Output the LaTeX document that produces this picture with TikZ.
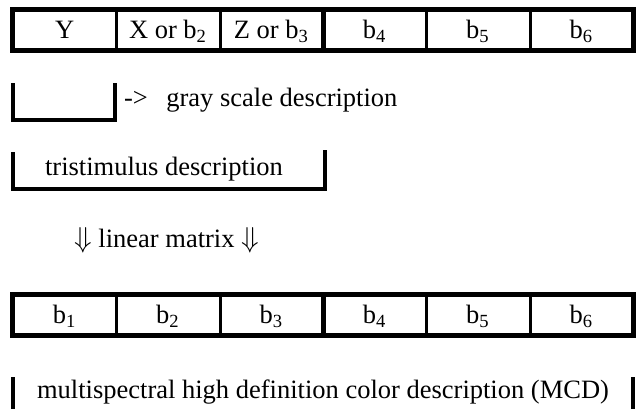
\documentclass[tikz,border=0pt]{standalone}
\usepackage{fontspec}
\setmainfont{Liberation Serif}
\usepackage{amsmath}
\usepackage{tikz}

\begin{document}
\begin{tikzpicture}[x=0.5pt,y=-0.5pt,
  every node/.style={font=\fontsize{13.25}{16}\selectfont},
  cell/.style={minimum width=51.67pt,minimum height=20pt,inner sep=0pt,
               text height=9.3pt,text depth=1pt},
  outer/.style={line width=2.3pt},
  divider/.style={line width=1.5pt}]
  \useasboundingbox (0,0) rectangle (636,409);
  % upper band row
  \node[cell] (y)   at (64.7,30)  {Y};
  \node[cell] (xb2) at (168.0,30) {X or b\textsubscript{2}};
  \node[cell] (zb3) at (271.3,30) {Z or b\textsubscript{3}};
  \node[cell] (ub4) at (374.7,30) {b\textsubscript{4}};
  \node[cell] (ub5) at (478.0,30) {b\textsubscript{5}};
  \node[cell] (ub6) at (581.3,30) {b\textsubscript{6}};
  \draw[outer] (y.north west) rectangle (ub6.south east);
  \draw[divider] (y.north east) -- (y.south east);
  \draw[divider] (xb2.north east) -- (xb2.south east);
  \draw[outer] (zb3.north east) -- (zb3.south east);
  \draw[divider] (ub4.north east) -- (ub4.south east);
  \draw[divider] (ub5.north east) -- (ub5.south east);
  \draw[outer] (13,83) -- (13,120) -- (115,120) -- (115,83);
  \node[anchor=base west] (gray) at (117,106) {->\hspace{0.7em}gray scale description};
  \draw[outer] (13,152) -- (13,189) -- (325,189) -- (325,150);
  \node[anchor=base] (tri) at (164,175.5) {tristimulus description};
  \node[anchor=base] (lin) at (166.5,247) {$\Downarrow$ linear matrix $\Downarrow$};
  % lower band row
  \node[cell] (b1) at (64.7,315)  {b\textsubscript{1}};
  \node[cell] (b2) at (168.0,315) {b\textsubscript{2}};
  \node[cell] (b3) at (271.3,315) {b\textsubscript{3}};
  \node[cell] (b4) at (374.7,315) {b\textsubscript{4}};
  \node[cell] (b5) at (478.0,315) {b\textsubscript{5}};
  \node[cell] (b6) at (581.3,315) {b\textsubscript{6}};
  \draw[outer] (b1.north west) rectangle (b6.south east);
  \draw[divider] (b1.north east) -- (b1.south east);
  \draw[divider] (b2.north east) -- (b2.south east);
  \draw[outer] (b3.north east) -- (b3.south east);
  \draw[divider] (b4.north east) -- (b4.south east);
  \draw[divider] (b5.north east) -- (b5.south east);
  \draw[outer] (13,377) -- (13,409);
  \draw[outer] (633,377) -- (633,409);
  \node[anchor=base] (mcd) at (323,398) {multispectral high definition color description (MCD)};
\end{tikzpicture}
\end{document}
